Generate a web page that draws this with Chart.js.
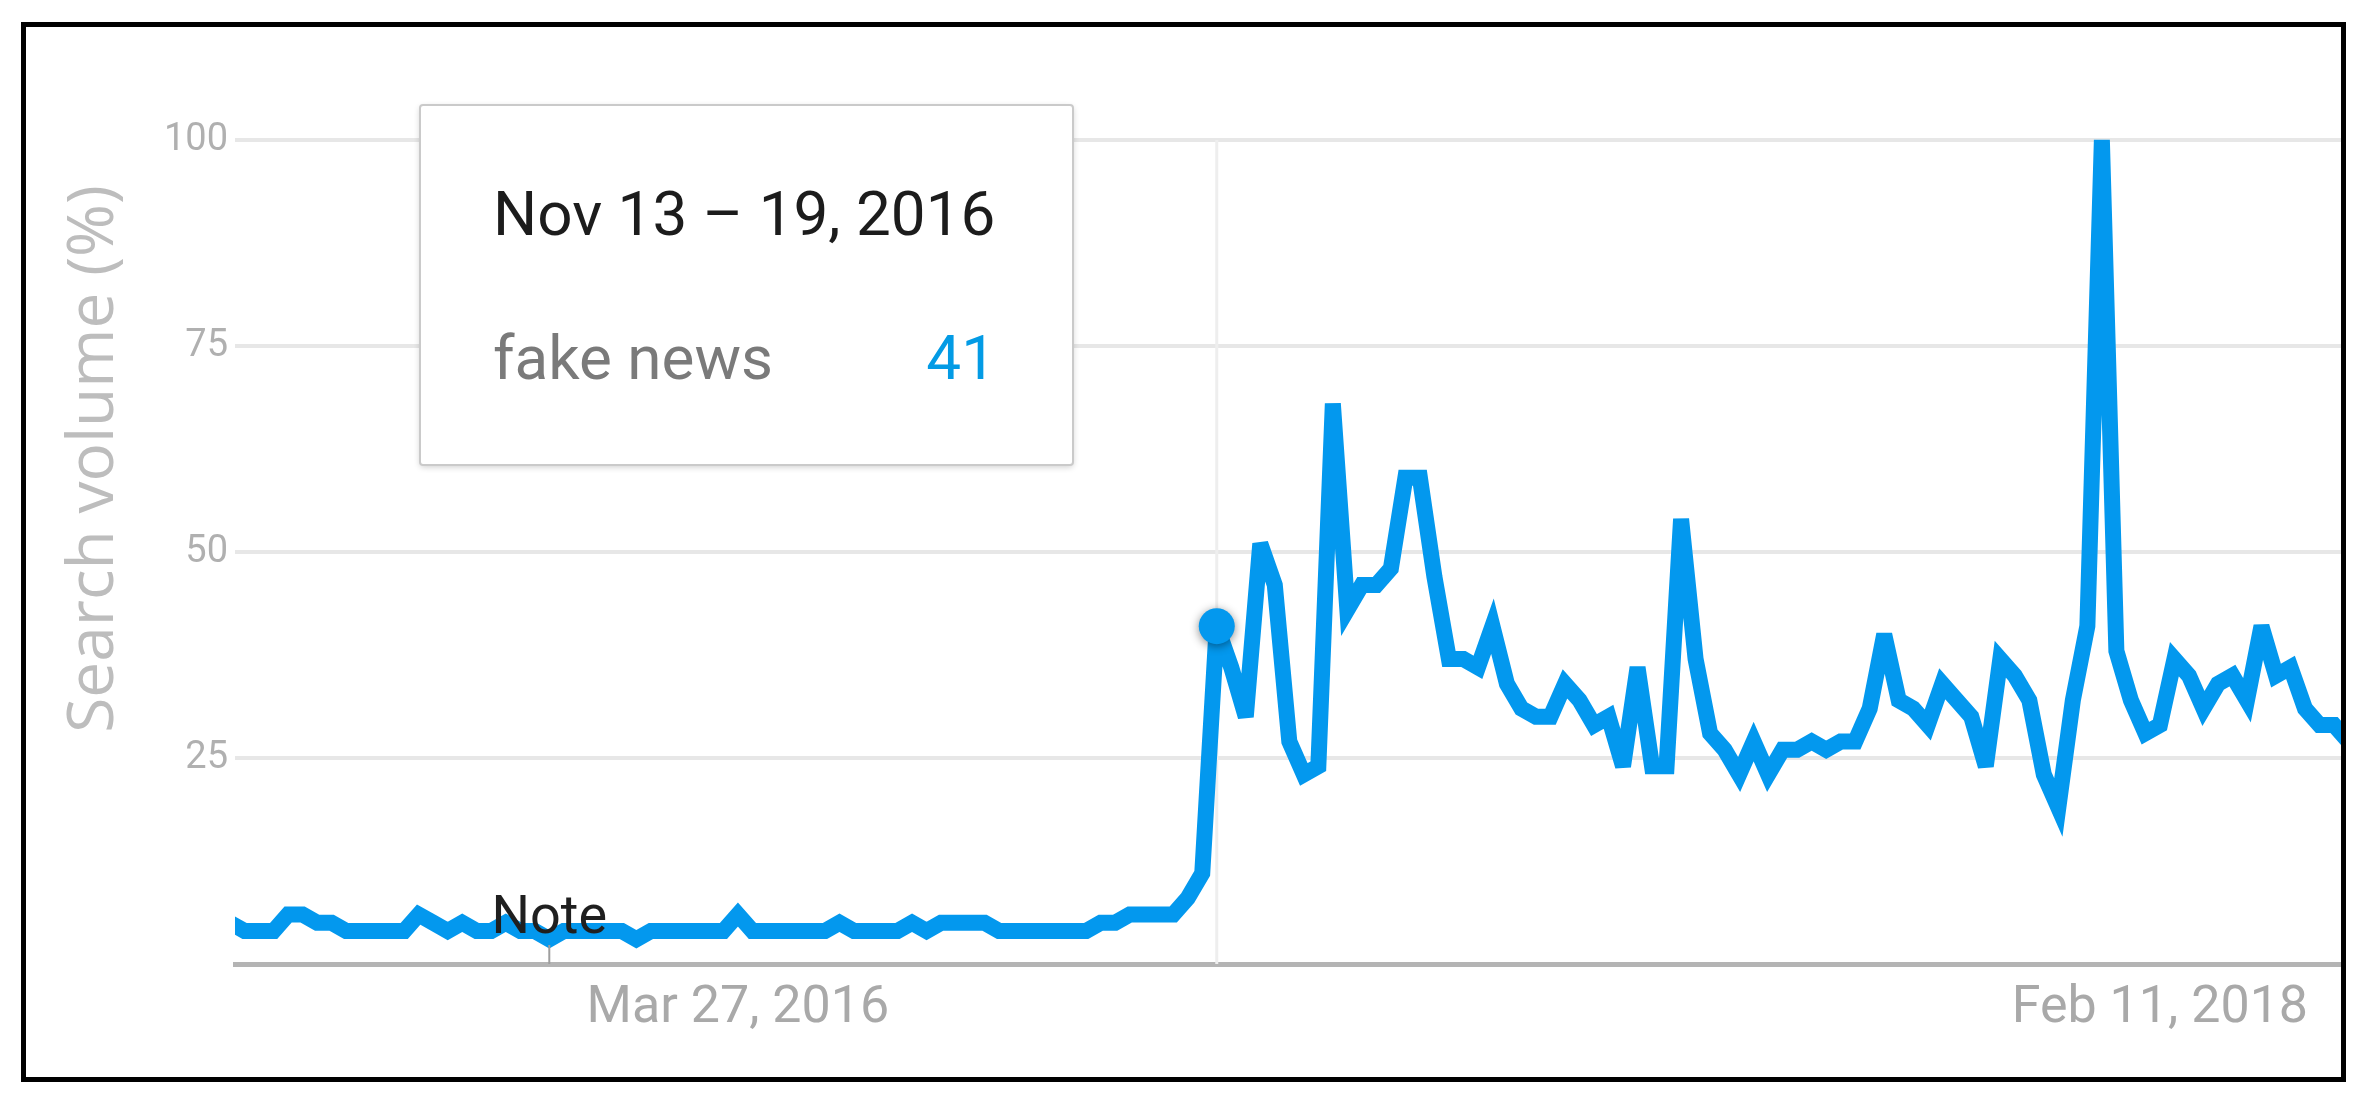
<!DOCTYPE html>
<html>
<head>
<meta charset="utf-8">
<script src="https://cdn.jsdelivr.net/npm/chart.js@4.4.1/dist/chart.umd.min.js"></script>
<style>
  html, body { margin: 0; padding: 0; background: #fff; }
  #wrap { position: relative; width: 2363px; height: 1101px; }
  #frame { position: absolute; left: 21px; top: 22px; width: 2325px; height: 1060px;
           border: 5px solid #000; box-sizing: border-box; pointer-events: none; }
</style>
</head>
<body>
<div id="wrap">
  <canvas id="trend"></canvas>
  <div id="frame"></div>
</div>
<script>
// weekly search interest for "fake news", week 0 = Mar 27, 2016
const firstWeek = -35;
const searchVolume = [
  5, 4, 4, 4, 6, 6, 5, 5, 4, 4, 4, 4, 4, 6, 5, 4, 5, 4, 4, 5,
  4, 4, 3, 4, 4, 4, 4, 4, 3, 4, 4, 4, 4, 4, 4,
  6, 4, 4, 4, 4, 4, 4, 5, 4, 4, 4, 4, 5, 4, 5, 5, 5, 5, 4, 4,
  4, 4, 4, 4, 4, 5, 5, 6, 6, 6, 6, 8, 11, 41, 36, 30, 51, 46, 27, 23,
  24, 68, 43, 46, 46, 48, 59, 59, 47, 37, 37, 36, 41, 34, 31, 30, 30, 34, 32, 29,
  30, 24, 36, 24, 24, 54, 37, 28, 26, 23, 27, 23, 26, 26, 27, 26, 27, 27, 31, 40,
  32, 31, 29, 34, 32, 30, 24, 37, 35, 32, 23, 19, 32, 41, 100, 38, 32, 28, 29, 37,
  35, 31, 34, 35, 32, 41, 35, 36, 31, 29, 29, 27
];
const yTicks = [0, 25, 50, 75, 100];
const xTickWeeks = [0, 98];
const xTickLabels = ['Mar 27, 2016', 'Feb 11, 2018'];
const hoverWeek = 33;
const hoverRange = 'Nov 13 \u2013 19, 2016';
const seriesName = 'fake news';
const noteWeek = -13;
const noteText = 'Note';
const yTitle = 'Search volume (%)';

const lineBlue = '#0398ee';

const overlay = {
  id: 'overlay',
  beforeDatasetsDraw(chart) {
    const {ctx, chartArea, scales: {x}} = chart;
    const hx = x.getPixelForValue(hoverWeek);
    ctx.save();
    ctx.strokeStyle = '#eeeeee';
    ctx.lineWidth = 3;
    ctx.beginPath();
    ctx.moveTo(hx, chartArea.top);
    ctx.lineTo(hx, chartArea.bottom);
    ctx.stroke();
    ctx.restore();
    // sharp spikes get bevelled like the original svg stroke
    ctx.miterLimit = 4;
  },
  afterDatasetsDraw(chart) {
    const {ctx, chartArea, scales: {x, y}} = chart;
    const hoverValue = searchVolume[hoverWeek - firstWeek];

    // note marker on the axis
    const nx = x.getPixelForValue(noteWeek);
    ctx.save();
    ctx.strokeStyle = '#9e9e9e';
    ctx.lineWidth = 2;
    ctx.beginPath();
    ctx.moveTo(nx, chartArea.bottom - 19);
    ctx.lineTo(nx, chartArea.bottom);
    ctx.stroke();
    ctx.fillStyle = '#1f1f1f';
    ctx.font = '54px Roboto';
    ctx.textAlign = 'center';
    ctx.textBaseline = 'alphabetic';
    ctx.fillText(noteText, nx, chartArea.bottom - 31);
    ctx.restore();

    // hovered point
    ctx.save();
    ctx.shadowColor = 'rgba(0,0,0,0.45)';
    ctx.shadowBlur = 10;
    ctx.shadowOffsetY = 2;
    ctx.fillStyle = lineBlue;
    ctx.beginPath();
    ctx.arc(x.getPixelForValue(hoverWeek), y.getPixelForValue(hoverValue), 18, 0, Math.PI * 2);
    ctx.fill();
    ctx.restore();

    // tooltip card
    const bx = 420, by = 105, bw = 653, bh = 360;
    ctx.save();
    ctx.shadowColor = 'rgba(0,0,0,0.2)';
    ctx.shadowBlur = 6;
    ctx.shadowOffsetY = 2;
    ctx.fillStyle = '#fff';
    ctx.beginPath();
    ctx.roundRect(bx, by, bw, bh, 3);
    ctx.fill();
    ctx.restore();
    ctx.save();
    ctx.strokeStyle = '#cacaca';
    ctx.lineWidth = 2;
    ctx.beginPath();
    ctx.roundRect(bx, by, bw, bh, 3);
    ctx.stroke();
    ctx.textBaseline = 'alphabetic';
    ctx.textAlign = 'left';
    ctx.fillStyle = '#1c1c1c';
    ctx.font = '62px Roboto';
    ctx.fillText(hoverRange, bx + 73, by + 130);
    ctx.font = '62px Roboto';
    ctx.fillStyle = '#7a7a7a';
    ctx.fillText(seriesName, bx + 73, by + 274);
    ctx.textAlign = 'right';
    ctx.fillStyle = '#039be5';
    ctx.fillText(String(hoverValue), bx + 576, by + 274);
    ctx.restore();
  },
  afterDraw(chart) {
    const {ctx} = chart;
    ctx.save();
    ctx.translate(113, 459);
    ctx.rotate(-Math.PI / 2);
    ctx.fillStyle = '#bdbdbd';
    ctx.font = '64px "Open Sans"';
    ctx.textAlign = 'center';
    ctx.textBaseline = 'alphabetic';
    ctx.fillText(yTitle, 0, 0);
    ctx.restore();
  }
};

const ctx = document.getElementById('trend').getContext('2d');
const chart = new Chart(ctx, {
    type: 'line',
    data: {
        datasets: [{
            label: seriesName,
            data: searchVolume.map((v, i) => ({ x: firstWeek + i, y: v })),
            borderColor: lineBlue,
            borderWidth: 16,
            pointRadius: 0,
            tension: 0,
            fill: false,
            clip: { left: 0, top: 20, right: 0, bottom: 20 }
        }]
    },
    options: {
        responsive: true,
        maintainAspectRatio: false,
        animation: false,
        events: [],
        layout: { padding: { top: 140, right: 22, left: 0, bottom: 0 } },
        plugins: { legend: { display: false }, tooltip: { enabled: false } },
        scales: {
            x: {
                type: 'linear',
                min: -34.66,
                max: 110.48,
                afterFit: s => { s.height = 137; },
                afterBuildTicks: s => { s.ticks = xTickWeeks.map(v => ({ value: v })); },
                grid: { display: false },
                border: { display: true, color: '#b4b4b4', width: 5 },
                ticks: {
                    autoSkip: false,
                    maxRotation: 0,
                    padding: 6,
                    color: '#a9a9a9',
                    font: { family: 'Roboto', size: 52 },
                    callback: v => {
                        const k = xTickWeeks.indexOf(v);
                        return k >= 0 ? xTickLabels[k] : '';
                    }
                }
            },
            y: {
                min: 0,
                max: 100,
                afterFit: s => { s.width = 235; },
                afterBuildTicks: s => { s.ticks = yTicks.map(v => ({ value: v })); },
                border: { display: false },
                grid: {
                    drawTicks: false,
                    lineWidth: 4,
                    color: c => (c.tick && c.tick.value === 0) ? 'rgba(0,0,0,0)' : '#e7e7e7'
                },
                ticks: {
                    padding: 7,
                    color: '#b0b0b0',
                    font: { family: 'Roboto', size: 38 },
                    callback: v => v === 0 ? '' : v
                }
            }
        }
    },
    plugins: [overlay]
});
</script>
</body>
</html>
